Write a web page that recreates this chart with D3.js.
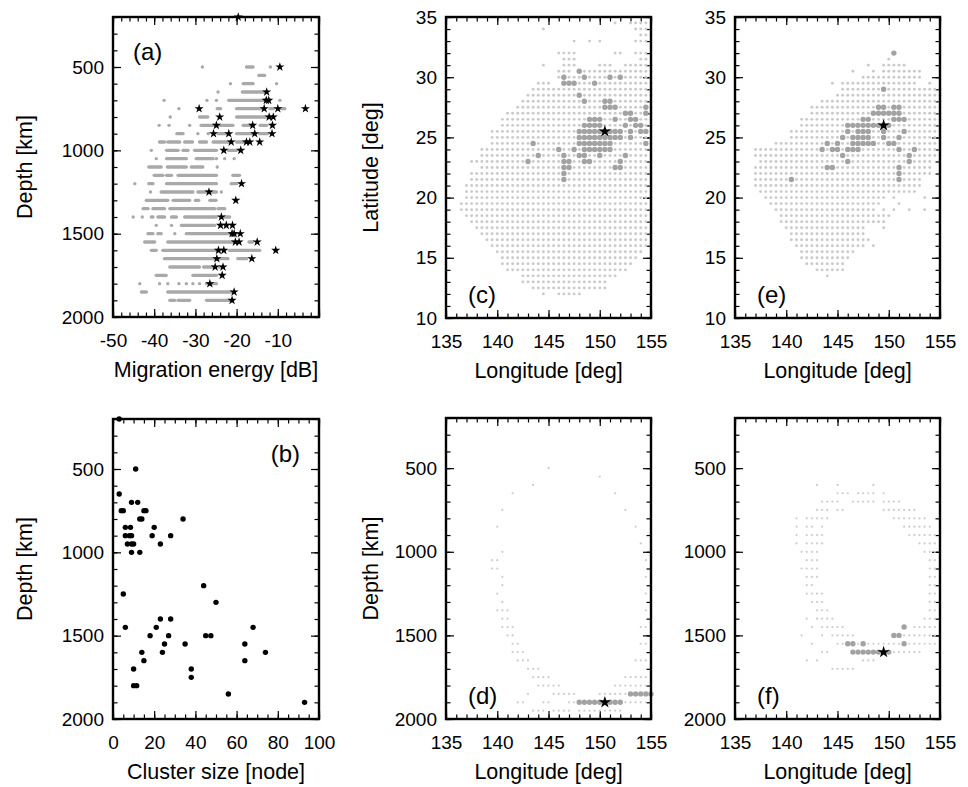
<!DOCTYPE html>
<html lang="en">
<head>
<meta charset="UTF-8">
<title>Migration energy, cluster size and node maps</title>
<script src="https://cdn.jsdelivr.net/npm/d3@7/dist/d3.min.js"></script>
<style>
  body { margin: 0; background: #fff; }
</style>
</head>
<body>
<svg id="fig" width="968" height="787"></svg>
<script>
// ---- data ----
// (a) grey runs: [depth, dB from, dB to]  (single dot if "to" missing)
const aGray = [
  [500,-28.3],[500,-17.6,-16],[500,-11.8],
  [550,-14.6,-13.2],
  [600,-21.5],[600,-18.4,-16],[600,-10.3],
  [650,-24.5],[650,-18.6,-13.2],
  [700,-37.6],[700,-27.2],[700,-24.9],[700,-21.9,-13.2],[700,-9.5],
  [750,-34],[750,-24.7,-23.9],[750,-20,-13.9],[750,-11.9,-11.1],[750,-9.5,-8.3],
  [800,-36.1],[800,-29,-27],[800,-20,-12.6],
  [850,-38.8],[850,-36.4],[850,-31.4],[850,-28.6,-25.3],[850,-24.1,-20.9],[850,-18.4,-16.4],[850,-14.3,-12.7],
  [900,-34.5,-33],[900,-29.4],[900,-26.9],[900,-24.5,-22.5],[900,-20,-16],[900,-14.5,-12.5],
  [950,-38.7,-37.5],[950,-36.7,-33.8],[950,-32.6,-30.7],[950,-29,-27.3],[950,-25.7,-21.3],[950,-20,-17.6],
  [1000,-40.7],[1000,-37,-34.2],[1000,-33,-31.8],[1000,-30.2,-24.9],[1000,-22,-20],
  [1050,-39.5],[1050,-37,-32.2],[1050,-29.8,-25.7],[1050,-24.9],[1050,-22.9],[1050,-20.6],
  [1100,-41.3,-38.3],[1100,-36.8,-32.2],[1100,-31,-28.2],[1100,-24.7],
  [1150,-40,-37.9],[1150,-37,-35.8],[1150,-34.2,-24.9],[1150,-20.9,-19.3],
  [1200,-44.7],[1200,-41.3,-40.3],[1200,-37,-24.9],[1200,-21.3,-20],
  [1250,-40.9],[1250,-38.3,-30.6],[1250,-29.4,-24.9],[1250,-23.7],
  [1300,-41.9,-36.7],[1300,-35.4,-31.4],[1300,-30,-29.2],[1300,-26.5,-25],
  [1350,-42.7,-41.5],[1350,-40.3,-37.5],[1350,-36.2,-25.3],[1350,-24.5,-22.9],
  [1400,-45.1],[1400,-42.9],[1400,-40.7,-40.3],[1400,-39.1,-37.5],[1400,-35.8,-34.6],[1400,-32.6,-24.9],[1400,-22.9,-21.7],
  [1450,-39.5],[1450,-35.8],[1450,-33.4,-25.3],
  [1500,-41.5,-40.3],[1500,-39.1,-38.3],[1500,-35],[1500,-32.2,-22.1],[1500,-21.7,-20.1],
  [1550,-42.3,-39.9],[1550,-36.7,-20.9],[1550,-17,-16.1],
  [1600,-40.7,-39.5],[1600,-37.9,-24.9],[1600,-21.7,-14.4],
  [1650,-37.5,-22.1],[1650,-19.7,-17.6],
  [1700,-36.2,-29],[1700,-28,-25.5],[1700,-24.2,-23.8],
  [1750,-39.5,-37.1],[1750,-30.6,-24.9],
  [1800,-43.5],[1800,-38.7],[1800,-36.7],[1800,-34],[1800,-32.2],[1800,-30.6],[1800,-29],[1800,-27.3,-25.3],[1800,-24.9],
  [1850,-43.1,-41.9],[1850,-36.7,-21.3],
  [1900,-36.2,-35],[1900,-34.2,-31.4],[1900,-27.3,-21.7]
];
// (a) stars: [dB, depth]
const aStars = [
  [-19.6,200],[-9.5,500],[-12.7,650],[-12.8,700],[-12.2,700],
  [-29.1,750],[-13.3,750],[-10.0,750],[-3.3,750],
  [-24.1,800],[-12.1,800],[-11.1,800],
  [-24.9,850],[-16.1,850],[-11.3,850],
  [-25.6,900],[-21.9,900],[-15.6,900],[-11.4,900],
  [-21.3,950],[-17.6,950],[-16.8,950],[-14.4,950],
  [-23.1,1000],[-19.0,1000],[-18.8,1200],[-26.7,1250],[-20.2,1300],[-23.7,1400],
  [-23.9,1450],[-22.5,1450],[-21.0,1450],
  [-21.1,1500],[-20.6,1500],[-19.1,1500],
  [-20.3,1550],[-19.4,1550],[-15.0,1550],
  [-24.4,1600],[-23.1,1600],[-10.5,1600],
  [-24.8,1650],[-16.3,1650],[-25.2,1700],[-23.3,1700],
  [-23.5,1750],[-26.5,1800],[-20.6,1850],[-21.1,1900]
];
// (b) clusters: [size, depth]
const bClusters = [
  [3,200],[11,500],[3,650],[9,700],[12,700],[4,750],[5,750],[15,750],[16,750],
  [13,800],[14,800],[34,800],[6,850],[8.5,850],[20,850],[6,900],[8,900],[9,900],
  [19,900],[28,900],[7,950],[9,950],[10,950],[23,950],[9,1000],[13,1000],
  [44,1200],[5,1250],[50,1300],[23,1400],[28,1400],[6,1450],[21,1450],[68,1450],
  [18,1500],[27,1500],[45,1500],[47.5,1500],[25,1550],[35,1550],[64,1550],
  [14,1600],[24,1600],[74,1600],[15,1650],[64,1650],[10,1700],[38,1700],
  [38,1750],[10,1800],[11.5,1800],[56,1850],[93,1900]
];
// (c) map: light node runs [lat, lon from, lon to], dark runs, star [lon, lat]
const cLight = [
  [34.5,151.5,151.5],[34.5,153,155],[34,144.5,144.5],[34,153.5,155],[33.5,154,155],
  [33,147.5,147.5],[33,149,149],[33,150,150],[33,153.5,155],
  [32,146,147.5],[32,151.5,152],[32,153.5,154.5],[31.5,146.5,147.5],[31.5,154,154.5],
  [31,144.5,144.5],[31,146.5,147.5],[31,150,151],[31,152.5,155],[30.5,146,147],[30.5,148.5,155],
  [30,146,155],[29.5,144,145],[29.5,146.5,155],[29,143.5,155],[28.5,143,155],
  [28,142.5,155],[27.5,142,155],[27,141,155],[26.5,140.5,155],[26,140.5,155],
  [25.5,139.5,155],[25,139.5,155],[24.5,139.5,155],[24,138.5,155],[23.5,138.5,155],
  [23,137.5,155],[22.5,138.5,155],[22,137.5,155],[21.5,137.5,155],[21,137,155],
  [20.5,137,155],[20,137,155],[19.5,136.5,155],[19,136.5,155],[18.5,137,155],
  [18,137.5,155],[17.5,138,155],[17,138.5,155],[16.5,139,154.5],[16,139.5,154.5],
  [15.5,140,154],[15,140.5,153.5],[14.5,140.5,153],[14,141,152.5],[13.5,142.5,151.5],
  [13,142.5,150.5],[12.5,143.5,150.5],[12,144.5,144.5],[12,146,148]
];
const cDark = [
  [30.5,148,148],[30,146.5,146.5],[30,148.5,148.5],[30,151,151],[30,152,152],
  [29.5,146.5,147.5],[29.5,149.5,149.5],[28.5,148,148],[28,148.5,148.5],[28,150.5,151],
  [27.5,150.5,151.5],[27.5,154.5,154.5],[27,152.5,153],[27,154.5,154.5],
  [26.5,149,150],[26.5,151.5,151.5],[26.5,153,153.5],
  [26,148.5,150],[26,152.5,152.5],[26,153.5,154],
  [25.5,148,152],[25.5,153,153],[25.5,154,154.5],[25,148,152],[25,153,153],
  [24.5,143.5,143.5],[24.5,148,151],[24.5,154.5,154.5],
  [24,146,146],[24,147.5,147.5],[24,148.5,151],
  [23.5,144,144],[23.5,146.5,146.5],[23.5,148,148.5],[23.5,150,150],[23.5,152.5,152.5],
  [23,143,143],[23,146.5,147],[23,148.5,149],[23,152,152],
  [22.5,146.5,147],[22.5,151.5,152],[22,146.5,146.5],[21.5,146.5,146.5]
];
const cStar = [150.5, 25.5];
// (e) map
const eLight = [
  [31.5,150,150],[31,148,148],[31,149.5,151.5],
  [30.5,146.5,146.5],[30.5,148.5,148.5],[30.5,149.5,151.5],[30.5,152,153],
  [30,147.5,153],[29.5,144.5,144.5],[29.5,145.5,152.5],[29.5,154,154],
  [29,145.5,155],[28.5,145,155],[28,143.5,155],[27.5,142.5,155],[27,142.5,155],
  [26.5,141.5,155],[26,141.5,155],[25.5,140.5,155],[25,140.5,155],[24.5,139,155],
  [24,137,155],[23.5,137,155],[23,137.5,154],[22.5,137,154],[22,137,154],
  [21.5,137,153],[21,137,153],[20.5,137.5,152.5],
  [20,138,149.5],[20,150.5,150.5],[20,153.5,153.5],[19.5,138.5,149],[19.5,151,151],
  [19,139,148.5],[19,149.5,149.5],[19,150.5,150.5],[19,152,152],[19,153.5,153.5],
  [18.5,139.5,150],[18,139.5,149.5],[17.5,140,147.5],[17.5,149.5,149.5],
  [17,140.5,147.5],[16.5,140.5,148],[16,141,147.5],[16,148.5,148.5],
  [15.5,141.5,146.5],[15,141.5,146],[14.5,142,145.5],[14,143,144],[14,144.5,145.5],
  [13.5,144,144]
];
const eDark = [
  [32,150.5,150.5],[29,149.5,149.5],[27.5,149,149.5],[27.5,150.5,151],[27,148.5,151],
  [26.5,147.5,148],[26.5,150.5,151.5],[26,146,150],
  [25.5,146,146],[25.5,147,148],[25.5,149.5,149.5],[25.5,151.5,151.5],
  [25,145.5,145.5],[25,146.5,148],[25,149.5,149.5],[25,151,151],
  [24.5,144,144],[24.5,145,145],[24.5,146.5,148.5],[24.5,150,150.5],
  [24,143.5,143.5],[24,144.5,145],[24,146,147],[24,151,151],[24,152.5,152.5],
  [23.5,145.5,145.5],[23.5,152,152],[23,146,146],[23,152,152],
  [22.5,144,144.5],[22.5,151,151],[22,151,151],[21.5,140.5,140.5],[21.5,151,151]
];
const eStar = [149.5, 26];
// (d) section: runs [depth, lon from, lon to]
const dLight = [
  [500,145,145],[550,150,150],[600,143.5,143.5],[650,141.5,141.5],[650,151.5,151.5],
  [750,140.5,140.5],[750,152.5,152.5],[850,140,140],[850,153.5,153.5],[950,154,154],
  [1000,140.5,140.5],[1050,139.5,140],[1050,154.5,154.5],[1100,139.5,140],
  [1150,140.5,140.5],[1150,154.5,155],[1200,140.5,140.5],[1250,140,140],[1250,154.5,155],
  [1300,140.5,140.5],[1350,140,141],[1350,154.5,155],[1400,140.5,141],[1450,140.5,141.5],
  [1450,154,155],[1500,141,141.5],[1550,141.5,142],[1550,154,155],[1600,141.5,142.5],
  [1650,142,143],[1650,153.5,155],[1700,143,144],[1750,143.5,145],[1750,152.5,155],
  [1800,144,146],[1800,151.5,155],[1850,143,143],[1850,145.5,147.5],[1850,150,152.5],
  [1900,142,142.5],[1900,144.5,145],[1900,147,147.5],[1900,152.5,155],
  [1950,143.5,144.5],[1950,145.5,147],[1950,148,152]
];
const dDark = [[1900,148,150],[1900,151,152],[1850,153,155]];
const dStar = [150.5, 1900];
// (f) section
const fLight = [
  [600,143,143],[600,145,145],[600,148.5,148.5],
  [650,145,146],[650,147,148.5],[650,149.5,149.5],
  [700,143.5,145],[700,146.5,148.5],[700,149.5,151],
  [750,143,144],[750,145,145.5],[750,149.5,152.5],
  [800,141,141],[800,142,144],[800,150.5,153.5],
  [850,141,141],[850,142,142.5],[850,143.5,143.5],[850,151.5,154],
  [900,141,141],[900,142,143.5],[900,152,154.5],[950,141,141],[950,142,143.5],[950,153,155],
  [1000,141.5,143],[1000,153.5,155],[1050,142,143],[1050,154,155],[1100,141.5,143],[1100,154,155],
  [1150,142,143],[1150,154,155],[1200,142,142.5],[1200,154,155],[1250,142,143.5],[1250,154,155],
  [1300,142.5,143.5],[1300,154,155],[1350,143,144],[1350,154,155],
  [1400,142,142],[1400,143,144.5],[1400,153.5,155],[1450,142.5,142.5],[1450,143.5,145.5],[1450,152.5,155],
  [1500,141.5,141.5],[1500,143.5,143.5],[1500,144.5,146.5],[1500,151.5,155],
  [1550,142.5,142.5],[1550,145,145.5],[1550,147,147],[1550,148,151],[1550,152,155],
  [1600,143.5,144],[1600,150.5,153],[1650,142,142],[1650,143,143],[1650,147.5,148.5],
  [1700,144.5,146.5]
];
const fDark = [[1450,151.5,151.5],[1500,150.5,151],[1550,146,146.5],[1550,147.5,147.5],
  [1550,151.5,151.5],[1600,146.5,149],[1600,150,150]];
const fStar = [149.5, 1600];

// tick values
const depthMajor = [500, 1000, 1500, 2000];
const depthMinor = d3.range(200, 2001, 100);
const dbMajor = [-50, -40, -30, -20, -10, 0];
const dbMinor = d3.range(-50, 1, 2);
const dbLabels = [-50, -40, -30, -20, -10];
const sizeMajor = [0, 20, 40, 60, 80, 100];
const sizeMinor = d3.range(0, 101, 5);
const lonMajor = [135, 140, 145, 150, 155];
const lonMinor = d3.range(135, 156, 1);
const latMajor = [10, 15, 20, 25, 30, 35];
const latMinor = d3.range(10, 36, 1);

// ---- drawing ----
const FONT = '"Liberation Sans", Arial, Helvetica, sans-serif';
const svg = d3.select("#fig");
svg.append("rect").attr("width", 968).attr("height", 787).attr("fill", "#fff");

function panel(o) {
  const w = o.x1 - o.x0, h = o.y1 - o.y0;
  const g = svg.append("g").attr("transform", `translate(${o.x0},${o.y0})`);
  const x = d3.scaleLinear().domain(o.xDom).range([0, w]);
  const y = d3.scaleLinear().domain(o.yDom).range(o.yFlip ? [0, h] : [h, 0]);
  const lab = list => d => list.includes(d) ? String(d) : "";

  const axes = [
    [d3.axisBottom(x), `translate(0,${h})`, o.xMaj, o.xMin, o.xLab, 17],
    [d3.axisTop(x), null, o.xMaj, o.xMin, [], 0],
    [d3.axisLeft(y), null, o.yMaj, o.yMin, o.yLab, 9],
    [d3.axisRight(y), `translate(${w},0)`, o.yMaj, o.yMin, [], 0]
  ];
  axes.forEach(([ax, tr, maj, min, labs, pad]) => {
    const gMin = g.append("g").attr("transform", tr)
      .call(ax.tickValues(min).tickSizeInner(-4.5).tickSizeOuter(0).tickFormat(""));
    gMin.select(".domain").remove();
    const gMaj = g.append("g").attr("transform", tr)
      .call(ax.tickValues(maj).tickSizeInner(-8).tickSizeOuter(0).tickPadding(pad).tickFormat(lab(labs)));
    gMaj.select(".domain").remove();
    [gMin, gMaj].forEach(s => s.attr("font-family", FONT).attr("font-size", 19)
      .selectAll("line").attr("stroke", "#000").attr("stroke-width", 1.2));
    gMaj.selectAll("text").attr("fill", "#000");
  });
  const plot = g.append("g");
  g.append("rect").attr("width", w).attr("height", h)
    .attr("fill", "none").attr("stroke", "#000").attr("stroke-width", 2.4);
  if (o.tag) {
    g.append("text").attr("x", o.tag[1]).attr("y", o.tag[2])
      .attr("text-anchor", o.tag[3] || "start")
      .attr("font-family", FONT).attr("font-size", 24).text(o.tag[0]);
  }
  if (o.xTitle) {
    svg.append("text").attr("x", o.x0 + w / 2).attr("y", o.y1 + 60)
      .attr("text-anchor", "middle").attr("font-family", FONT).attr("font-size", 21.5)
      .text(o.xTitle);
  }
  if (o.yTitle) {
    svg.append("text").attr("transform", `translate(${o.x0 - o.yTitleOff},${o.y0 + h / 2}) rotate(-90)`)
      .attr("text-anchor", "middle").attr("font-family", FONT).attr("font-size", 21.5)
      .text(o.yTitle);
  }
  return { plot, x, y };
}

// expand runs of a 0.5-degree node grid into nodes [lon, row]
function nodes(runs) {
  const out = [];
  runs.forEach(([row, a, b]) => {
    for (let v = a; v <= b + 1e-6; v += 0.5) out.push([v, row]);
  });
  return out;
}
const starPath = s => d3.symbol(d3.symbolStar, s)();

// (a)
{
  const { plot, x, y } = panel({ x0: 113, x1: 319, y0: 17, y1: 317,
    xDom: [-50, 0], yDom: [200, 2000], yFlip: true,
    xMaj: dbMajor, xMin: dbMinor, xLab: dbLabels,
    yMaj: depthMajor, yMin: depthMinor, yLab: depthMajor,
    tag: ["(a)", 20, 43], xTitle: "Migration energy [dB]", yTitle: "Depth [km]", yTitleOff: 81 });
  const runs = aGray.filter(r => r.length === 3), dots = aGray.filter(r => r.length === 2);
  plot.selectAll("line.run").data(runs).join("line")
    .attr("x1", d => x(d[1])).attr("x2", d => x(d[2]))
    .attr("y1", d => y(d[0])).attr("y2", d => y(d[0]))
    .attr("stroke", "#a9a9a9").attr("stroke-width", 3.4).attr("stroke-linecap", "round");
  plot.selectAll("circle").data(dots).join("circle")
    .attr("cx", d => x(d[1])).attr("cy", d => y(d[0])).attr("r", 1.7).attr("fill", "#a9a9a9");
  plot.selectAll("path.star").data(aStars).join("path")
    .attr("d", starPath(26)).attr("transform", d => `translate(${x(d[0])},${y(d[1])})`)
    .attr("fill", "#000");
}
// (b)
{
  const { plot, x, y } = panel({ x0: 113, x1: 319, y0: 419, y1: 719,
    xDom: [0, 100], yDom: [200, 2000], yFlip: true,
    xMaj: sizeMajor, xMin: sizeMinor, xLab: sizeMajor,
    yMaj: depthMajor, yMin: depthMinor, yLab: depthMajor,
    tag: ["(b)", 187, 43, "end"], xTitle: "Cluster size [node]", yTitle: "Depth [km]", yTitleOff: 81 });
  plot.selectAll("circle").data(bClusters).join("circle")
    .attr("cx", d => x(d[0])).attr("cy", d => y(d[1])).attr("r", 2.7).attr("fill", "#000");
}
// map panels (c), (e)
function mapPanel(x0, light, dark, star, tag, withYTitle) {
  const { plot, x, y } = panel({ x0: x0, x1: x0 + 205, y0: 17, y1: 318,
    xDom: [135, 155], yDom: [10, 35],
    xMaj: lonMajor, xMin: lonMinor, xLab: lonMajor,
    yMaj: latMajor, yMin: latMinor, yLab: latMajor,
    tag: [tag, 22, 286], xTitle: "Longitude [deg]",
    yTitle: withYTitle ? "Latitude [deg]" : null, yTitleOff: 68 });
  plot.selectAll("circle.l").data(nodes(light)).join("circle").attr("class", "l")
    .attr("cx", d => x(d[0])).attr("cy", d => y(d[1])).attr("r", 1.45).attr("fill", "#cacaca");
  plot.selectAll("circle.d").data(nodes(dark)).join("circle").attr("class", "d")
    .attr("cx", d => x(d[0])).attr("cy", d => y(d[1])).attr("r", 2.7).attr("fill", "#a2a2a2");
  plot.append("path").attr("d", starPath(46))
    .attr("transform", `translate(${x(star[0])},${y(star[1])})`).attr("fill", "#000");
}
mapPanel(446, cLight, cDark, cStar, "(c)", true);
mapPanel(735, eLight, eDark, eStar, "(e)", false);

// section panels (d), (f)
function sectionPanel(x0, light, dark, star, tag, withYTitle) {
  const { plot, x, y } = panel({ x0: x0, x1: x0 + 205, y0: 418, y1: 719,
    xDom: [135, 155], yDom: [200, 2000], yFlip: true,
    xMaj: lonMajor, xMin: lonMinor, xLab: lonMajor,
    yMaj: depthMajor, yMin: depthMinor, yLab: depthMajor,
    tag: [tag, 22, 286], xTitle: "Longitude [deg]",
    yTitle: withYTitle ? "Depth [km]" : null, yTitleOff: 68 });
  plot.selectAll("circle.l").data(nodes(light)).join("circle").attr("class", "l")
    .attr("cx", d => x(d[0])).attr("cy", d => y(d[1])).attr("r", 1.1).attr("fill", "#cccccc");
  plot.selectAll("circle.d").data(nodes(dark)).join("circle").attr("class", "d")
    .attr("cx", d => x(d[0])).attr("cy", d => y(d[1])).attr("r", 2.7).attr("fill", "#a2a2a2");
  plot.append("path").attr("d", starPath(46))
    .attr("transform", `translate(${x(star[0])},${y(star[1])})`).attr("fill", "#000");
}
sectionPanel(446, dLight, dDark, dStar, "(d)", true);
sectionPanel(735, fLight, fDark, fStar, "(f)", false);
</script>
</body>
</html>
